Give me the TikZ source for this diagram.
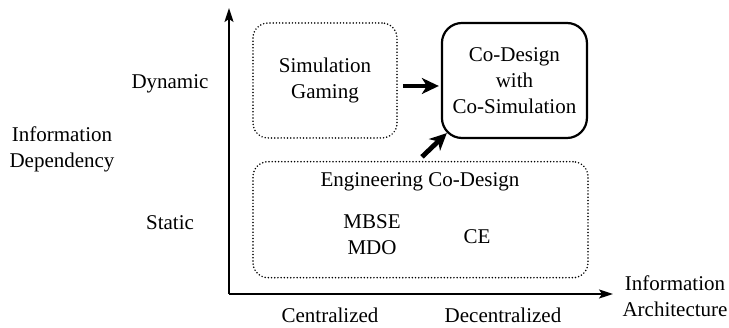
\documentclass[tikz,border=0pt]{standalone}
\usepackage{fontspec}
\setmainfont{Liberation Serif}
\usetikzlibrary{positioning,calc,arrows.meta}

\begin{document}
\begin{tikzpicture}[x=1pt,y=1pt,
every node/.style={font=\rmfamily\fontsize{21}{26}\selectfont,align=center,inner sep=0pt},
dotted box/.style={draw,rounded corners=15pt,line width=1.7pt,line cap=round,dash pattern=on 0pt off 3.2pt,minimum width=144pt,minimum height=115pt},
solid box/.style={draw,rounded corners=20pt,line width=2.2pt,minimum width=145pt,minimum height=115pt},
axis/.style={line width=1.8pt,-{Stealth[length=14pt,width=9pt,inset=3pt]}},
fat arrow/.style={line width=4.8pt,-{Stealth[length=17pt,width=16pt,inset=5pt]}}]
\useasboundingbox (0,0) rectangle (729,328);
% axes
  \coordinate (origin) at (229,34);
  \coordinate (ytip) at (229,320);
  \coordinate (xtip) at (613,34);
  \draw[axis] (origin) -- (ytip);
  \draw[axis] (origin) -- (xtip);
% nodes
  \node[dotted box] (sg) at (325,247.5) {Simulation\\Gaming};
  \node[solid box] (cd) [right = 43pt of sg] {Co-Design\\with\\Co-Simulation};
  \node[dotted box,minimum width=335pt,minimum height=116pt] (eng) [below = 22pt of sg.south west, anchor=north west] {};
  \node (engtitle) at (420,146) {Engineering Co-Design};
  \node (mbse) at (372,93) {MBSE\\MDO};
  \node (ce) at (477,91) {CE};
% axis labels
  \node (dyn) at (170,244) {Dynamic};
  \node (stat) at (170,105) {Static};
  \node (infodep) at (62,179) {Information\\Dependency};
  \node (cent) at (330,13) {Centralized};
  \node (decent) at (503,13) {Decentralized};
  \node (infoarch) at (675,31.5) {Information\\Architecture};
%edges
  \draw[fat arrow,shorten <=5pt,shorten >=2pt] ([yshift=-5.5pt]sg.east) -- ([yshift=-5.5pt]cd.west);
  \draw[fat arrow] ([shift={(1.5,4)}]eng.north) -- ([shift={(6,6)}]cd.south west);
\end{tikzpicture}
\end{document}
